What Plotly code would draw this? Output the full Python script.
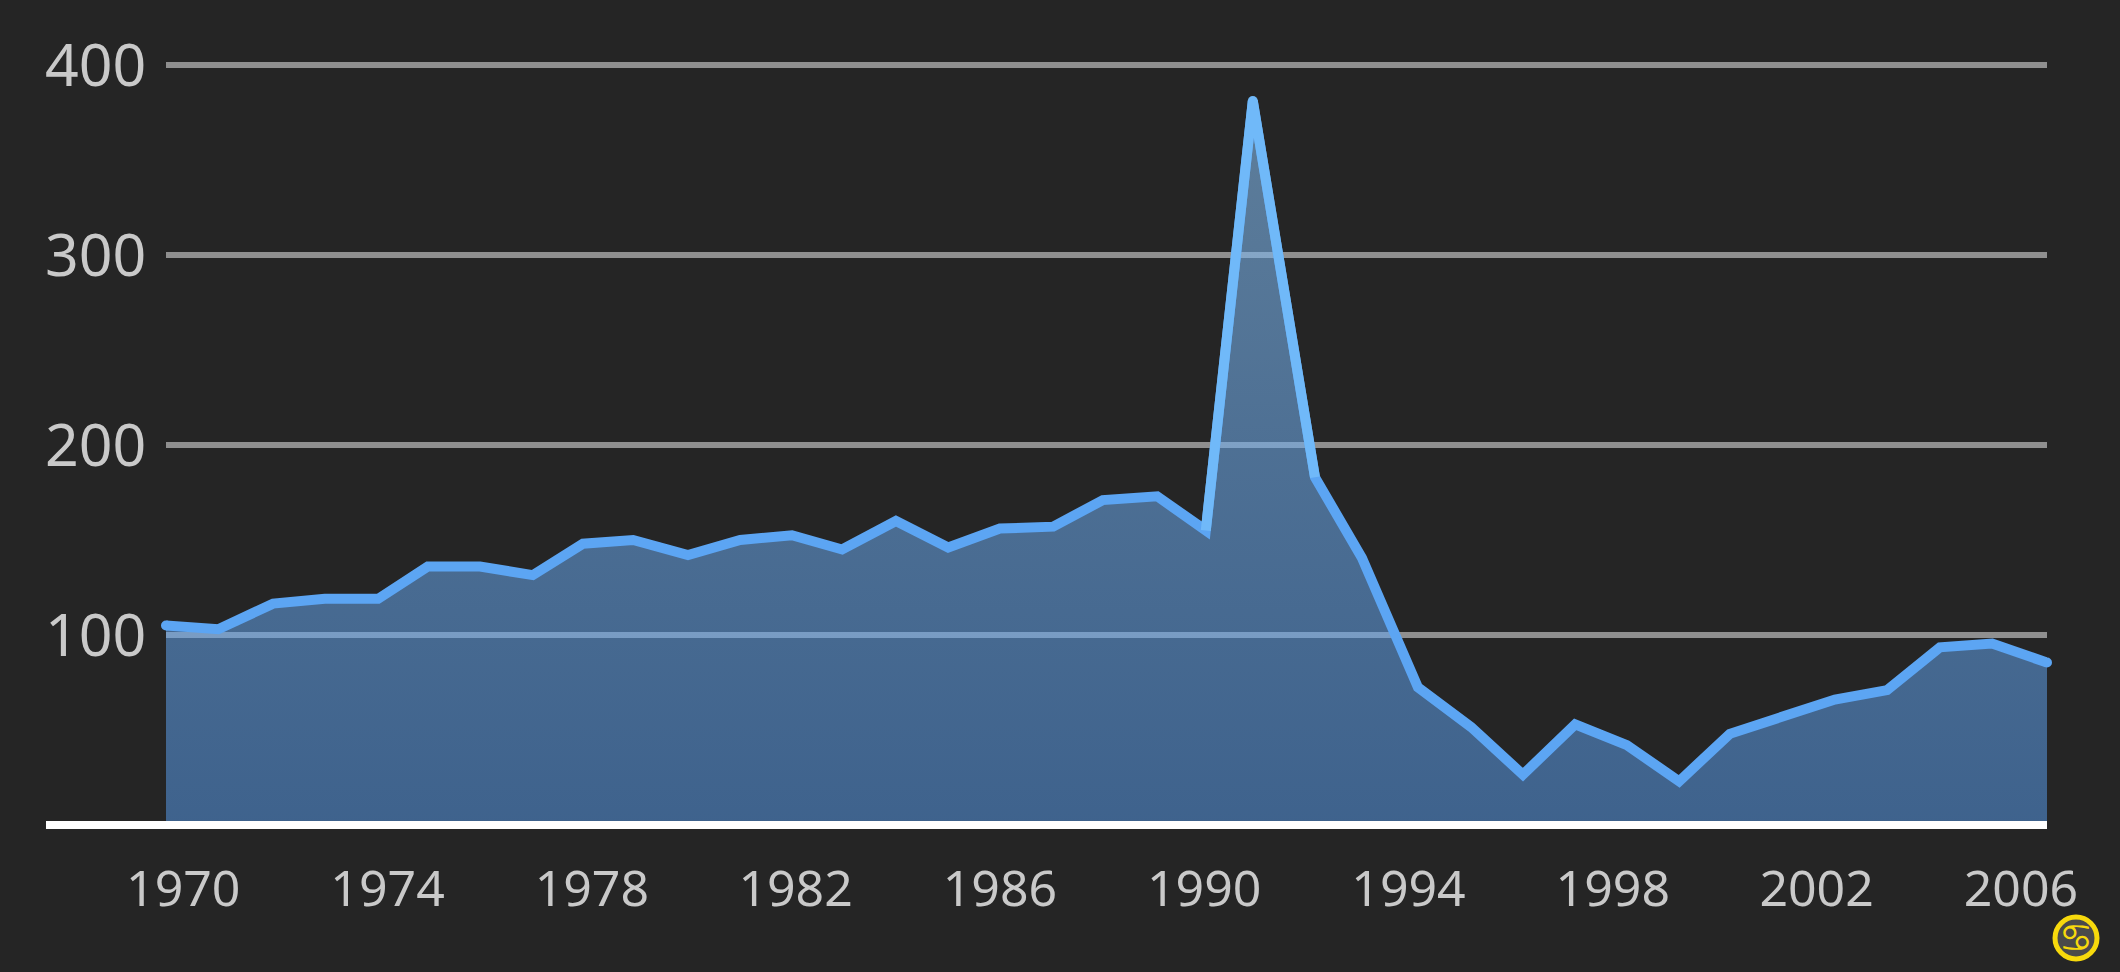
import plotly.graph_objects as go

years = [1970.00, 1971.00, 1972.05, 1973.04, 1974.06, 1975.01, 1976.01, 1977.02, 1977.98, 1978.94,
         1979.99, 1980.99, 1981.98, 1982.94, 1983.97, 1984.97, 1985.96, 1986.98, 1987.93, 1988.97,
         1989.90, 1990.80, 1991.99, 1992.89, 1993.96, 1994.98, 1995.97, 1996.97, 1997.96, 1998.96,
         1999.93, 2000.95, 2001.94, 2002.94, 2003.95, 2004.95, 2006.00]
values = [105, 103, 116.5, 119, 119, 136, 136, 131.5, 148, 150,
          142, 150, 152.5, 145, 160, 146, 156, 157, 171, 173,
          155, 381, 183, 140.5, 72.5, 51.5, 26.5, 53, 42, 23,
          48, 57, 66, 71, 93.5, 95.5, 85.5]
x_tick_positions = [1970.33, 1974.24, 1978.15, 1982.05, 1985.96, 1989.87, 1993.78, 1997.69, 2001.59, 2005.50]
x_tick_labels = ["1970", "1974", "1978", "1982", "1986", "1990", "1994", "1998", "2002", "2006"]
y_ticks = [100, 200, 300, 400]

BG = "#252525"
TEXT = "#c9c9c9"
GRID = "#8f8f8f"
LINE = "#5ca5f3"
LINE_LIGHT = "#70b9f9"
FONT = "Noto Sans"

fig = go.Figure()
fig.add_trace(go.Scatter(
    x=years, y=values, mode="lines",
    line=dict(color=LINE, width=10, shape="linear"),
    fill="tozeroy",
    fillgradient=dict(
        type="vertical",
        colorscale=[[0.0, "rgba(88,160,245,0.50)"], [1.0, "rgba(135,190,240,0.58)"]],
    ),
    hoverinfo="skip", showlegend=False, cliponaxis=False,
))
fig.add_trace(go.Scatter(
    x=years[20:23], y=values[20:23], mode="lines",
    line=dict(color=LINE_LIGHT, width=10),
    hoverinfo="skip", showlegend=False, cliponaxis=False,
))
fig.add_trace(go.Scatter(
    x=[years[0], years[-1]], y=[values[0], values[-1]], mode="markers",
    marker=dict(color=LINE, size=10, line=dict(width=0)),
    hoverinfo="skip", showlegend=False, cliponaxis=False,
))
fig.add_trace(go.Scatter(
    x=[years[21]], y=[values[21]], mode="markers",
    marker=dict(color=LINE_LIGHT, size=10, line=dict(width=0)),
    hoverinfo="skip", showlegend=False, cliponaxis=False,
))

fig.update_layout(
    width=2120, height=972, autosize=False,
    margin=dict(l=166, r=73, t=63, b=147),
    paper_bgcolor=BG, plot_bgcolor=BG,
    font=dict(family=FONT, color=TEXT),
    xaxis=dict(
        range=[1970, 2006], tickmode="array",
        tickvals=x_tick_positions, ticktext=x_tick_labels,
        tickfont=dict(size=50, color=TEXT, family=FONT),
        showgrid=False, zeroline=False, showline=False,
        ticks="outside", ticklen=20, tickcolor="rgba(0,0,0,0)", tickangle=0,
    ),
    yaxis=dict(
        range=[0, 401], tickmode="array", tickvals=y_ticks,
        tickfont=dict(size=59, color=TEXT, family=FONT),
        showgrid=True, gridcolor=GRID, gridwidth=6,
        zeroline=False, showline=False,
        ticks="outside", ticklen=7, tickcolor="rgba(0,0,0,0)",
    ),
    shapes=[
        dict(type="line", xref="paper", yref="paper", x0=-0.0638, x1=1, y0=0, y1=0,
             line=dict(color="#ffffff", width=8), layer="above"),
        dict(type="circle", xref="paper", yref="paper",
             x0=(2055 - 166) / 1881, x1=(2097 - 166) / 1881,
             y0=(825 - 959) / 762, y1=(825 - 917) / 762,
             fillcolor="#4a4a4a", line=dict(color="#f7d90c", width=5), layer="above"),
    ],
    annotations=[
        dict(text="<b>♋</b>", xref="paper", yref="paper", x=(2076 - 166) / 1881, y=(825 - 938) / 762,
             showarrow=False, xanchor="center", yanchor="middle",
             font=dict(size=38, color="#f7d90c", family="DejaVu Sans")),
    ],
)

fig.write_html(
    "out.html",
    config={"displayModeBar": False},
    post_script="document.body.style.margin='0';document.body.style.background='#252525';",
)
